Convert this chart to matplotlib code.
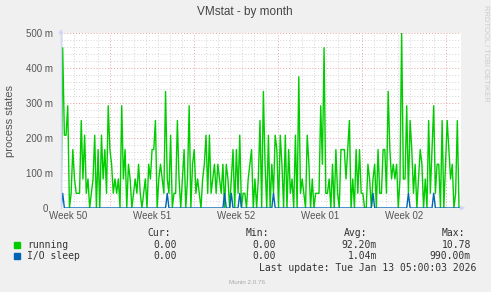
import numpy as np
import matplotlib
matplotlib.use('Agg')
import matplotlib.pyplot as plt
from matplotlib.transforms import ScaledTranslation

# ---- data (values in milli-units, 2-hour averages) ----
running = [
    0, 458, 208, 208, 292, 0, 42, 167, 83, 42, 42, 42, 250, 83, 208, 42, 83, 0, 42, 83, 208, 0, 167, 0, 208, 83, 167, 42, 292, 167, 125, 42,
    83, 42, 83, 0, 292, 83, 167, 0, 125, 83, 0, 42, 83, 42, 125, 42, 0, 42, 83, 0, 125, 83, 167, 167, 250, 0, 83, 125, 83, 42, 333, 83, 42, 208,
    0, 42, 42, 250, 83, 0, 83, 167, 0, 83, 292, 0, 125, 167, 42, 83, 42, 0, 83, 125, 208, 42, 208, 42, 83, 125, 42, 125, 83, 42, 125, 0, 125, 83,
    0, 83, 167, 0, 167, 42, 208, 0, 42, 42, 0, 83, 125, 167, 0, 83, 0, 83, 250, 0, 333, 125, 0, 208, 0, 125, 42, 208, 167, 0, 208, 125,
    0, 208, 0, 167, 42, 83, 0, 208, 0, 375, 42, 83, 42, 0, 208, 125, 0, 83, 0, 42, 42, 42, 292, 125, 458, 42, 42, 83, 0, 125, 0, 167, 42, 0, 167, 167,
    167, 83, 167, 250, 0, 83, 0, 167, 42, 167, 42, 42, 0, 0, 125, 83, 0, 83, 125, 0, 167, 42, 42, 167, 167, 42, 333, 167, 83, 125, 83, 125, 0, 83, 500,
    83, 83, 292, 42, 250, 167, 42, 125, 0, 83, 167, 125, 0, 83, 0, 250, 42, 167, 292, 42, 125, 125, 0, 250, 0, 125, 250, 167, 83, 125, 0, 42, 250, 0,
]
io_sleep_idx = [1, 63, 97, 101, 106, 126, 185, 206, 221]
io_sleep_val = [42, 42, 42, 42, 42, 42, 42, 42, 42]

week_labels = ['Week 50', 'Week 51', 'Week 52', 'Week 01', 'Week 02']
y_ticks = [0, 100, 200, 300, 400, 500]
y_tick_labels = ['0', '100 m', '200 m', '300 m', '400 m', '500 m']

legend_names = ['running', 'I/O sleep']
legend_colors = ['#00CC00', '#0066B3']
cur_vals = ['0.00', '0.00']
min_vals = ['0.00', '0.00']
avg_vals = ['92.20m', '1.04m']
max_vals = ['10.78', '990.00m']

# ---- figure ----
W, H = 491, 292
fig = plt.figure(figsize=(W / 100, H / 100), dpi=100, facecolor='#F0F0F0')
x0, x1, ytop, ybot = 61, 461, 33, 208
ax = fig.add_axes([x0 / W, (H - ybot) / H, (x1 - x0) / W, (ybot - ytop) / H])
ax.set_facecolor('white')

px_per_day = 12.0
t_start = -(x1 - x0) / px_per_day
n = len(running)
t = np.linspace(t_start, -2 / px_per_day, n)
io = np.zeros(n)
io[io_sleep_idx] = io_sleep_val

ax.set_xlim(t_start, 0)
ax.set_ylim(0, 500)

# grid
minor_x = np.arange(-1.25, t_start, -1.0)
major_x = np.arange(-1.25, t_start, -7.0)
minor_y = [v for v in range(20, 501, 20) if v % 100 != 0]
major_y = [100, 200, 300, 400, 500]
dash = (0, (1, 2))
ax.vlines([d for d in minor_x if d not in major_x], 0, 500, colors='#D4D4D4', lw=0.7, linestyles=dash, zorder=0)
ax.hlines(minor_y, t_start, 0, colors='#D4D4D4', lw=0.7, linestyles=dash, zorder=0)
ax.vlines(major_x, 0, 500, colors='#E8A0A0', lw=0.7, linestyles=dash, zorder=0)
ax.hlines(major_y, t_start, 0, colors='#E8A0A0', lw=0.7, linestyles=dash, zorder=0)

ax.plot(t, running, color=legend_colors[0], lw=1.0, zorder=3)
ax.plot(t, io, color=legend_colors[1], lw=1.0, zorder=4)

for s in ax.spines.values():
    s.set_visible(False)
ax.axvline(t_start, color='#CFD6F8', lw=1.0, zorder=5, clip_on=False)
# arrows
ax.annotate('', xy=(t_start, 520), xytext=(t_start, 495), xycoords='data',
            arrowprops=dict(arrowstyle='-|>', color='#CFD6F8', lw=1.0, mutation_scale=6), annotation_clip=False)
ax.annotate('', xy=(0.6, 0), xytext=(-0.2, 0), xycoords='data',
            arrowprops=dict(arrowstyle='-|>', color='#CFD6F8', lw=1.0, mutation_scale=6), annotation_clip=False)

sans = 'Liberation Sans'
label_pos = [d - 3.5 for d in sorted(major_x)]
ax.set_xticks(label_pos)
ax.set_xticklabels(week_labels, fontsize=7, color='#555555', family=sans)
ax.set_yticks(y_ticks)
ax.set_yticklabels(y_tick_labels, fontsize=7, color='#555555', family=sans)
ax.tick_params(axis='y', length=0, pad=5.5)
ax.tick_params(axis='x', length=0, pad=2)
zero_lbl = ax.get_yticklabels()[0]
zero_lbl.set_transform(zero_lbl.get_transform() + ScaledTranslation(-5 / 100, 0, fig.dpi_scale_trans))
ax.set_ylabel('process states', fontsize=8, color='#555555', labelpad=8, family=sans)

fig.text(245 / W, 1 - 12 / H, 'VMstat - by month', ha='center', va='center', fontsize=8.5,
         color='#444444', family=sans)
fig.text(485 / W, 1 - 5 / H, 'RRDTOOL / TOBI OETIKER', rotation=270, ha='center', va='top',
         fontsize=5.5, color='#CCCCCC', family=sans)

mono = 'DejaVu Sans Mono'
fs = 7
tc = '#333333'
def ftext(x, y, s, ha='left', **kw):
    fig.text(x / W, 1 - y / H, s, ha=ha, va='center', fontsize=kw.pop('fontsize', fs),
             family=kw.pop('family', mono), color=kw.pop('color', tc), **kw)

ftext(171, 233, 'Cur:', ha='right')
ftext(269, 233, 'Min:', ha='right')
ftext(367, 233, 'Avg:', ha='right')
ftext(465, 233, 'Max:', ha='right')
rows_y = [245, 256]
for i in range(2):
    y = rows_y[i]
    fig.patches.append(plt.Rectangle(((14) / W, 1 - (y + 3) / H), 6 / W, 6 / H,
                                     transform=fig.transFigure, color=legend_colors[i]))
    ftext(27, y, legend_names[i])
    ftext(177, y, cur_vals[i], ha='right')
    ftext(276, y, min_vals[i], ha='right')
    ftext(377, y, avg_vals[i], ha='right')
    ftext(471, y, max_vals[i], ha='right')
ftext(476, 268, 'Last update: Tue Jan 13 05:00:03 2026', ha='right')
ftext(247, 282, 'Munin 2.0.76', ha='center', family=sans, fontsize=4.5, color='#AAAAAA')

fig.savefig('out.png', dpi=100, facecolor=fig.get_facecolor())
